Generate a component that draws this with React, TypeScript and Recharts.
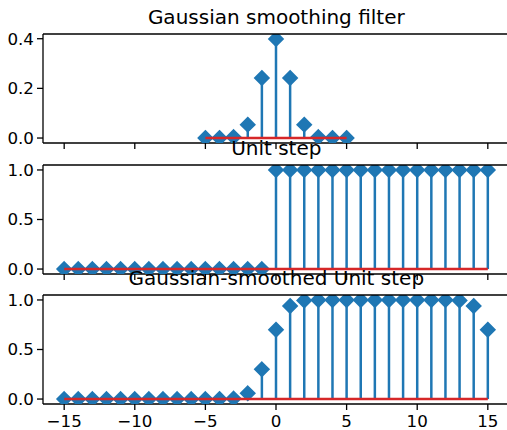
import React from 'react'
import { ComposedChart, Scatter, XAxis, YAxis, ReferenceLine } from 'recharts'

// sample positions and values
const filterX = [-5, -4, -3, -2, -1, 0, 1, 2, 3, 4, 5]
const filterY = [0.0, 0.0001, 0.004, 0.054, 0.242, 0.399, 0.242, 0.054, 0.004, 0.0001, 0.0]

const stepX = [-15, -14, -13, -12, -11, -10, -9, -8, -7, -6, -5, -4, -3, -2, -1, 0, 1, 2, 3, 4, 5, 6, 7, 8, 9, 10, 11, 12, 13, 14, 15]
const stepY = [0, 0, 0, 0, 0, 0, 0, 0, 0, 0, 0, 0, 0, 0, 0, 1, 1, 1, 1, 1, 1, 1, 1, 1, 1, 1, 1, 1, 1, 1, 1]
const smoothY = [0, 0, 0, 0, 0, 0, 0, 0, 0, 0, 0, 0.0001, 0.0045, 0.058, 0.30, 0.70, 0.94, 0.995, 1.0, 1.0, 1.0, 1.0, 1.0, 1.0, 1.0, 1.0, 1.0, 1.0, 0.995, 0.94, 0.70]

const xTicks = [-15, -10, -5, 0, 5, 10, 15]
const topTicks = [0, 0.2, 0.4]
const unitTicks = [0, 0.5, 1.0]

const BLUE = '#1f77b4'
const RED = '#d62728'
const FONT = 'DejaVu Sans, sans-serif'
const AXES_H = 109
const PAD_TOP = 10

// markers get clipped to the axes box like matplotlib does
const Diamond = (props: any) => {
  const { cx, cy } = props
  const r = 7.1
  return (
    <polygon
      points={`${cx},${cy - r} ${cx + r},${cy} ${cx},${cy + r} ${cx - r},${cy}`}
      fill={BLUE}
      stroke={BLUE}
      strokeWidth={1.6}
      clipPath="url(#plotClip)"
    />
  )
}

const minus = (v: number) => String(v).replace('-', '\u2212')

interface StemProps {
  xs: number[]
  ys: number[]
  yDomain: [number, number]
  yTicks: number[]
  top: number
  showLabels: boolean
}

const StemChart = ({ xs, ys, yDomain, yTicks, top, showLabels }: StemProps) => {
  const rows = xs.map((x, i) => ({ x, y: ys[i] }))
  const axisH = showLabels ? 32 : 10
  const tickStyle = { fontSize: 16.7, fontFamily: FONT, fill: '#000' }
  return (
    <div style={{ position: 'absolute', left: 0, top: top - PAD_TOP }}>
      <ComposedChart width={516} height={PAD_TOP + AXES_H + axisH} data={rows} margin={{ top: PAD_TOP, right: 7, left: 0, bottom: 0 }}>
        <defs>
          <clipPath id="plotClip">
            <rect x={43} y={PAD_TOP} width={466} height={AXES_H} />
          </clipPath>
        </defs>
        <XAxis
          dataKey="x"
          type="number"
          domain={[-16.5, 16.5]}
          ticks={xTicks}
          height={axisH}
          tickSize={6}
          tickMargin={5}
          tick={tickStyle}
          tickFormatter={(v: number) => (showLabels ? minus(v) : '')}
          axisLine={{ stroke: '#000', strokeWidth: 1.3 }}
          tickLine={{ stroke: '#000', strokeWidth: 1.3 }}
        />
        <YAxis
          dataKey="y"
          type="number"
          domain={yDomain}
          allowDataOverflow
          ticks={yTicks}
          width={43}
          tickSize={6}
          tickMargin={3}
          tick={tickStyle}
          tickFormatter={(v: number) => v.toFixed(1)}
          axisLine={{ stroke: '#000', strokeWidth: 1.3 }}
          tickLine={{ stroke: '#000', strokeWidth: 1.3 }}
        />
        {rows.map((r) => (
          <ReferenceLine
            key={r.x}
            segment={[{ x: r.x, y: 0 }, { x: r.x, y: r.y }]}
            stroke={BLUE}
            strokeWidth={2.5}
          />
        ))}
        <Scatter data={rows} fill={BLUE} shape={Diamond} isAnimationActive={false} />
        <ReferenceLine
          segment={[{ x: xs[0], y: 0 }, { x: xs[xs.length - 1], y: 0 }]}
          stroke={RED}
          strokeWidth={2.5}
          zIndex={700}
        />
        {/* top spine */}
        <ReferenceLine y={yDomain[1]} stroke="#000" strokeWidth={1.3} zIndex={800} />
      </ComposedChart>
    </div>
  )
}

export default function App() {
  const tops = [33.7, 164.6, 295.4]
  const titles = ['Gaussian smoothing filter', 'Unit step', 'Gaussian-smoothed Unit step']
  return (
    <div style={{ position: 'absolute', left: 0, top: 0, width: 507, height: 430, overflow: 'hidden', background: '#fff' }}>
      <StemChart xs={filterX} ys={filterY} yDomain={[-0.02, 0.419]} yTicks={topTicks} top={tops[0]} showLabels={false} />
      <StemChart xs={stepX} ys={stepY} yDomain={[-0.05, 1.05]} yTicks={unitTicks} top={tops[1]} showLabels={false} />
      <StemChart xs={stepX} ys={smoothY} yDomain={[-0.05, 1.05]} yTicks={unitTicks} top={tops[2]} showLabels={true} />
      <svg width={507} height={430} style={{ position: 'absolute', left: 0, top: 0, pointerEvents: 'none' }}>
        {titles.map((t, i) => (
          <text key={t} x={276.3} y={tops[i] - 10} textAnchor="middle" fontSize={20} fontFamily={FONT} fill="#000">
            {t}
          </text>
        ))}
      </svg>
    </div>
  )
}
